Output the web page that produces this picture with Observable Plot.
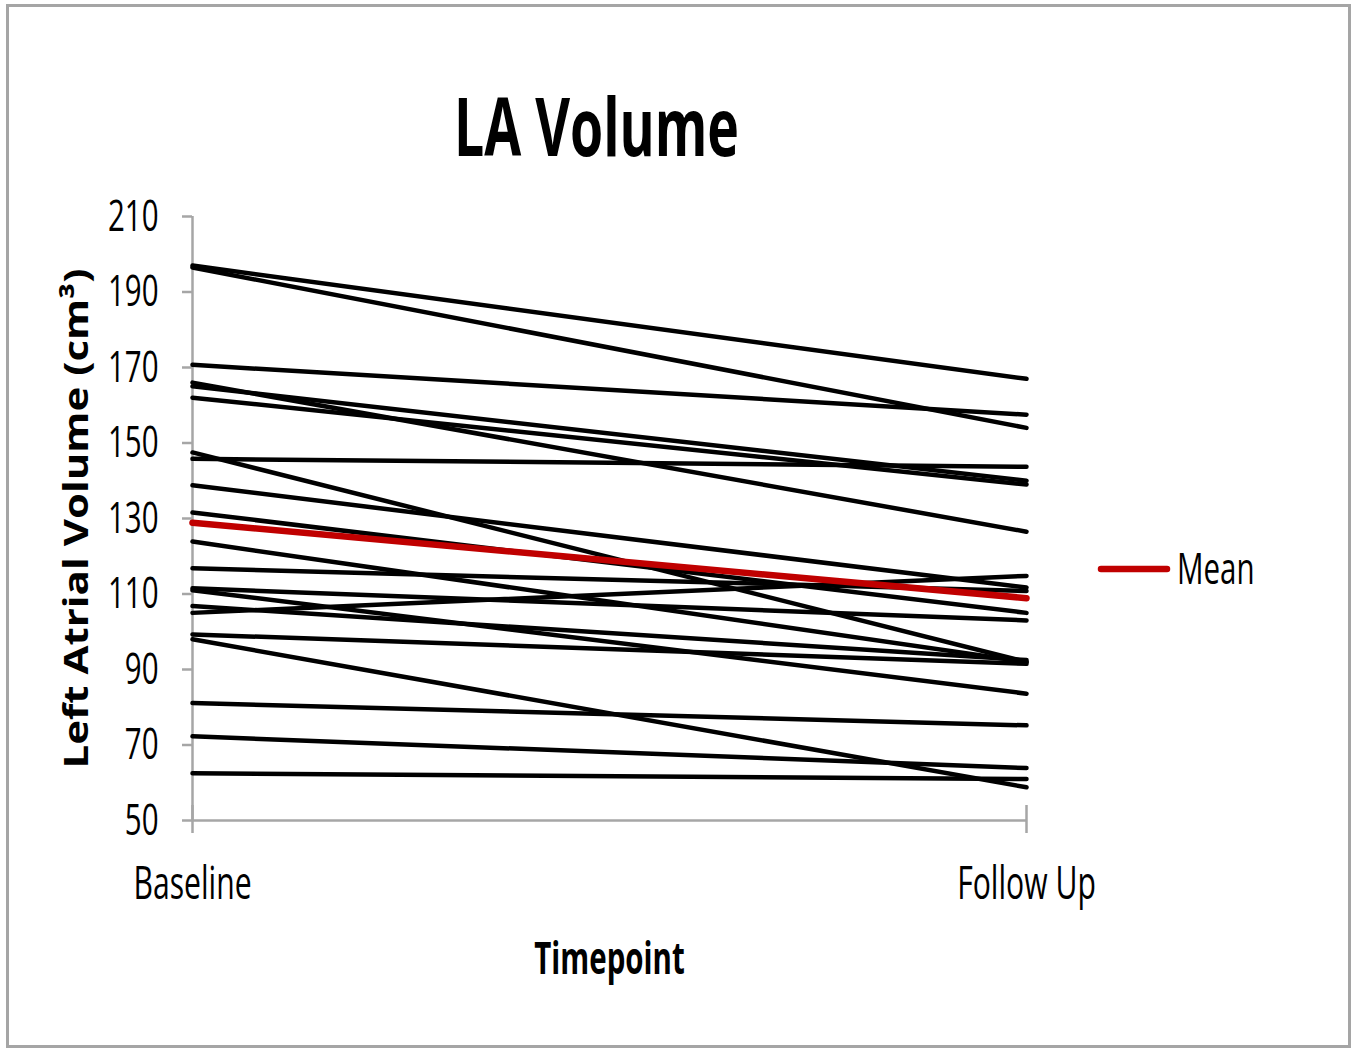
<!DOCTYPE html>
<html>
<head>
<meta charset="utf-8">
<script src="https://cdn.jsdelivr.net/npm/d3@7"></script>
<script src="https://cdn.jsdelivr.net/npm/@observablehq/plot@0.6"></script>
<style>
  body { margin: 0; background: #fff; }
  #wrap { position: relative; width: 1357px; height: 1049px; overflow: hidden; background: #fff; }
  #border { position: absolute; left: 6px; top: 4px; width: 1345px; height: 1044px; box-sizing: border-box; border: 3px solid #a5a5a5; pointer-events: none; }
  #chart { position: absolute; left: 0; top: 0; }
  #legend { position: absolute; left: 1080px; top: 530px; }
</style>
</head>
<body>
<div id="wrap">
  <div id="chart"></div>
  <div id="legend"></div>
  <div id="border"></div>
</div>
<script>
// ---- data ----
const timepoints = ["Baseline", "Follow Up"];
const baseline = [197, 196.5, 170.7, 166, 165, 162, 147.5, 145.8, 138.8, 131.6, 123.9, 116.8, 111.5, 111, 106.8, 105, 99.3, 98, 81.1, 72.3, 62.5];
const followUp = [167, 154, 157.5, 126.5, 140, 139, 92, 143.7, 111.7, 105, 92, 110.8, 103, 83.6, 92.5, 114.8, 91.5, 58.8, 75.2, 63.9, 61];
const meanValues = [128.9, 108.9];
const yTicks = [50, 70, 90, 110, 130, 150, 170, 190, 210];
const titleText = "LA Volume";
const xLabel = "Timepoint";
const yLabel = "Left Atrial Volume (cm³)";
const legendLabel = "Mean";

// tidy tables built from the arrays
const subjects = baseline.flatMap((b, i) => [
  {id: i, time: timepoints[0], value: b},
  {id: i, time: timepoints[1], value: followUp[i]}
]);
const meanData = meanValues.map((v, i) => ({time: timepoints[i], value: v}));

const gray = "#a6a6a6";
const font = "'Open Sans', 'Liberation Sans', sans-serif";

const plot = Plot.plot({
  width: 1357,
  height: 1049,
  marginLeft: 192,
  marginRight: 331,
  marginTop: 216,
  marginBottom: 229,
  style: {fontFamily: font, background: "transparent", color: "black", overflow: "visible"},
  x: {type: "point", domain: timepoints, padding: 0, label: null},
  y: {domain: [50, 210], label: null},
  marks: [
    Plot.ruleX([timepoints[0]], {stroke: gray, strokeWidth: 2.5}),
    Plot.ruleY([50], {stroke: gray, strokeWidth: 2.5}),
    Plot.axisY({ticks: yTicks, tickSize: 10, tickPadding: 24, fontSize: 44, stroke: gray, strokeWidth: 2.5, fill: "black", label: null}),
    Plot.axisX({tickSize: 13, tickPadding: 34, fontSize: 45, stroke: gray, strokeWidth: 2.5, fill: "black", label: null}),
    Plot.axisX({tickSize: -15, tickFormat: () => "", stroke: gray, strokeWidth: 2.5, label: null}),
    Plot.line(subjects, {x: "time", y: "value", z: "id", stroke: "black", strokeWidth: 4.5, strokeLinecap: "round"}),
    Plot.line(meanData, {x: "time", y: "value", stroke: "#c00000", strokeWidth: 6.5, strokeLinecap: "round"}),
    Plot.text([titleText], {frameAnchor: "top", dx: -13, dy: -86, fontSize: 80, fontWeight: "bold", lineAnchor: "middle", fill: "black"}),
    Plot.text([xLabel], {frameAnchor: "bottom", dy: 139, fontSize: 44, fontWeight: "bold", lineAnchor: "middle", fill: "black"}),
    Plot.text([yLabel], {frameAnchor: "left", dx: -115, rotate: -90, textAnchor: "middle", fontSize: 42, fontWeight: "bold", lineAnchor: "middle", fill: "black"})
  ]
});

// condensed look of the original text
plot.querySelectorAll("text").forEach(t => {
  const tr = t.getAttribute("transform");
  if (tr) {
    t.setAttribute("transform", tr + (tr.includes("rotate") ? " scale(1,0.8)" : " scale(0.67,1)"));
  }
});
document.getElementById("chart").appendChild(plot);

// legend
const lg = d3.select("#legend").append("svg").attr("width", 260).attr("height", 80);
lg.append("line").attr("x1", 21).attr("x2", 87).attr("y1", 39).attr("y2", 39)
  .attr("stroke", "#c00000").attr("stroke-width", 6.5).attr("stroke-linecap", "round");
lg.append("text").text(legendLabel)
  .attr("transform", "translate(97,54) scale(0.67,1)")
  .attr("font-family", font).attr("font-size", 44).attr("fill", "black");
</script>
</body>
</html>
